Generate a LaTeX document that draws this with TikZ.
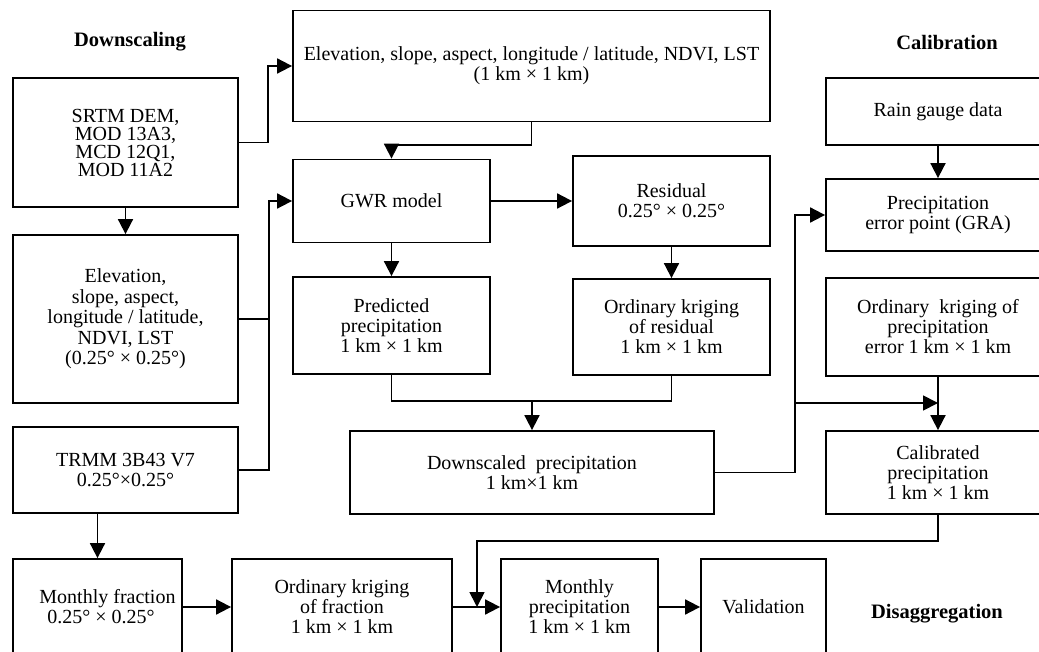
\documentclass[tikz,border=0pt]{standalone}
\usepackage{fontspec}
\setmainfont{Liberation Serif}
\usetikzlibrary{arrows.meta}
\begin{document}
\begin{tikzpicture}[x=1pt, y=-1pt, line join=miter, >={Triangle[length=15pt,width=15pt]},
    box/.style={draw, line width=1.8pt, inner sep=0pt, align=center, font=\fontsize{20}{20}\selectfont},
    title/.style={font=\fontsize{20.5}{20}\selectfont\bfseries},
    link/.style={line width=1.8pt}]
    \useasboundingbox (0,0) rectangle (1039,652);
    \clip (0,0) rectangle (1039,652);
    % titles
    \node[title] (tdown) at (130,42) {Downscaling};
    \node[title] (tcal) at (947,42) {Calibration};
    \node[title] (tdis) at (937,614) {Disaggregation};
    % downscaling
    \node[box, minimum width=225pt, minimum height=129pt, font=\fontsize{20}{18}\selectfont] (srtm) at (125.5,142.5) {SRTM DEM,\\MOD 13A3,\\MCD 12Q1,\\MOD 11A2};
    \node[box, minimum width=225pt, minimum height=168pt, font=\fontsize{20}{20.5}\selectfont] (elevc) at (125.5,319) {Elevation,\\slope, aspect,\\longitude / latitude,\\NDVI, LST\\(0.25° × 0.25°)};
    \node[box, minimum width=225pt, minimum height=86pt] (trmm) at (125.5,470) {TRMM 3B43 V7\\0.25°×0.25°};
    \node[box, minimum width=477pt, minimum height=111pt] (elevf) at (531.5,66) {Elevation, slope, aspect, longitude / latitude, NDVI, LST\\(1 km × 1 km)};
    \node[box, minimum width=197pt, minimum height=83pt] (gwr) at (391.5,201) {GWR model};
    \node[box, minimum width=197pt, minimum height=90pt] (resid) at (671.5,201) {Residual\\0.25° × 0.25°};
    \node[box, minimum width=197pt, minimum height=97pt] (pred) at (391.5,325.5) {Predicted\\precipitation\\1 km × 1 km};
    \node[box, minimum width=197pt, minimum height=96pt] (okres) at (671.5,327) {Ordinary kriging\\of residual\\1 km × 1 km};
    \node[box, minimum width=364pt, minimum height=83pt] (down) at (532,472.5) {Downscaled~ precipitation\\1 km×1 km};
    % calibration
    \node[box, minimum width=224pt, minimum height=67pt] (rain) at (938,111.5) {Rain gauge data};
    \node[box, minimum width=224pt, minimum height=72pt] (errpt) at (938,215) {Precipitation\\error point (GRA)};
    \node[box, minimum width=224pt, minimum height=98pt] (okerr) at (938,327) {Ordinary~ kriging of\\precipitation\\error 1 km × 1 km};
    \node[box, minimum width=224pt, minimum height=83pt] (calib) at (938,472.5) {Calibrated\\precipitation\\1 km × 1 km};
    % disaggregation
    \node[box, minimum width=169pt, minimum height=96pt] (mfrac) at (97.5,607) {\hspace*{20pt}Monthly fraction\\\hspace*{7pt}0.25° × 0.25°};
    \node[box, minimum width=220pt, minimum height=96pt] (okfrac) at (342,607) {Ordinary kriging\\of fraction\\1 km × 1 km};
    \node[box, minimum width=157pt, minimum height=96pt] (mprec) at (579.5,607) {Monthly\\precipitation\\1 km × 1 km};
    \node[box, minimum width=125pt, minimum height=96pt] (valid) at (763.5,607) {Validation};
    \coordinate (merge) at (532,401);
    \coordinate (split) at (794,403);
    \coordinate (meet) at (477,607);
    % connectors
    \draw[link,->] (srtm.east) -- ++(29,0) |- (elevf.west);
    \draw[link,->] (srtm.south) -- (elevc.north);
    \draw[link] (elevc.east) -- ++(30,0);
    \draw[link,->] (trmm.east) -- ++(30,0) |- (gwr.west);
    \draw[link,->] (elevf.south) -- ++(0,23) -| (gwr.north);
    \draw[link,->] (gwr.east) -- (resid.west);
    \draw[link,->] (gwr.south) -- (pred.north);
    \draw[link,->] (resid.south) -- (okres.north);
    \draw[link] (pred.south) -- ++(0,26) -| (okres.south);
    \draw[link,->] (merge) -- (down.north);
    \draw[link,->] (down.east) -- ++(80,0) |- (errpt.west);
    \draw[link,->] (split) -- (okerr.south |- split);
    \draw[link,->] (rain.south) -- (errpt.north);
    \draw[link,->] (okerr.south) -- (calib.north);
    \draw[link,->] (calib.south) -- ++(0,26) -| (meet);
    \draw[link,->] (trmm.south -| mfrac.north) -- (mfrac.north);
    \draw[link,->] (mfrac.east) -- (okfrac.west);
    \draw[link,->] (okfrac.east) -- (mprec.west);
    \draw[link,->] (mprec.east) -- (valid.west);
\end{tikzpicture}
\end{document}
